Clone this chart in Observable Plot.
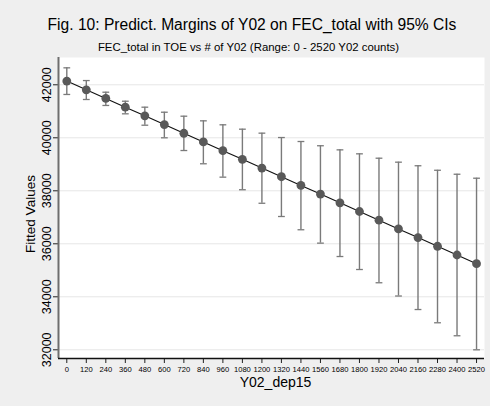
<!DOCTYPE html>
<html>
<head>
<meta charset="utf-8">
<script src="https://cdn.jsdelivr.net/npm/d3@7"></script>
<script src="https://cdn.jsdelivr.net/npm/@observablehq/plot@0.6"></script>
<style>
  html, body { margin: 0; padding: 0; background: #efefef; }
  #wrap { width: 490px; height: 406px; background: #efefef; font-family: "Liberation Sans", Arial, Helvetica, sans-serif; position: relative; overflow: hidden; }
  #title { position: absolute; left: 0; width: 504px; top: 16px; text-align: center; font-size: 15.6px; color: #000; white-space: nowrap; }
  #subtitle { position: absolute; left: 0; width: 497px; top: 41px; text-align: center; font-size: 11.4px; color: #000; white-space: nowrap; }
  #chart { position: absolute; left: 0; top: 57px; }
</style>
</head>
<body>
<div id="wrap">
  <div id="title">Fig. 10: Predict. Margins of Y02 on FEC_total with 95% CIs</div>
  <div id="subtitle">FEC_total in TOE vs # of Y02 (Range: 0 - 2520 Y02 counts)</div>
  <div id="chart"></div>
</div>
<script>
const counts = [0, 120, 240, 360, 480, 600, 720, 840, 960, 1080, 1200, 1320, 1440, 1560, 1680, 1800, 1920, 2040, 2160, 2280, 2400, 2520];
const fitted = [42140, 41812, 41484, 41156, 40828, 40500, 40171, 39843, 39515, 39187, 38859, 38531, 38203, 37875, 37547, 37219, 36891, 36563, 36235, 35907, 35578, 35250];
const upper  = [42640, 42160, 41720, 41380, 41155, 40965, 40815, 40640, 40490, 40325, 40175, 40010, 39860, 39700, 39545, 39395, 39230, 39080, 38945, 38775, 38625, 38475];
const lower  = [41635, 41445, 41220, 40905, 40475, 40000, 39520, 39020, 38515, 38040, 37530, 37030, 36530, 36025, 35520, 35030, 34530, 34030, 33520, 33020, 32530, 32000];
const yTicks = [32000, 34000, 36000, 38000, 40000, 42000];
const xTicks = counts;

const data = counts.map((c, i) => ({x: c, y: fitted[i], lo: lower[i], hi: upper[i]}));

const capSymbol = {
  draw(context, size) {
    const w = Math.sqrt(size / Math.PI);
    context.moveTo(-w, 0);
    context.lineTo(w, 0);
  }
};

const chart = Plot.plot({
  width: 490,
  height: 349,
  marginTop: 0,
  marginLeft: 58,
  marginRight: 6,
  marginBottom: 48,
  style: {background: "transparent", fontFamily: "Liberation Sans, Arial, Helvetica, sans-serif", color: "#000"},
  x: {domain: [-51, 2569]},
  y: {domain: [31672, 43030]},
  marks: [
    Plot.frame({fill: "white", stroke: null}),
    Plot.gridY(yTicks, {stroke: "#e6e6e6", strokeOpacity: 1, strokeWidth: 1}),
    Plot.ruleX(data, {x: "x", y1: "lo", y2: "hi", stroke: "#7a7a7a", strokeWidth: 1.4}),
    Plot.dot(data, {x: "x", y: "lo", symbol: capSymbol, r: 3.4, stroke: "#7a7a7a", strokeWidth: 1.3, fill: "none"}),
    Plot.dot(data, {x: "x", y: "hi", symbol: capSymbol, r: 3.4, stroke: "#7a7a7a", strokeWidth: 1.3, fill: "none"}),
    Plot.line(data, {x: "x", y: "y", stroke: "#111", strokeWidth: 1.1}),
    Plot.dot(data, {x: "x", y: "y", r: 4.4, fill: "#595959", stroke: "none"}),
    Plot.axisX({ticks: xTicks, tickSize: 5, tickPadding: 3, fontSize: 7.6, stroke: "#222", label: null, tickFormat: d => String(d)}),
    Plot.axisY({ticks: yTicks, tickSize: 5, tickFormat: () => "", label: null, stroke: "#222"}),
    Plot.text(yTicks, {y: d => d, text: d => String(d), frameAnchor: "left", dx: -12, rotate: -90, fontSize: 12.5, textAnchor: "middle", lineAnchor: "middle", fill: "#000"}),
    Plot.ruleX([-51], {stroke: "#6e6e6e", strokeWidth: 2}),
    Plot.ruleY([31672], {stroke: "#111", strokeWidth: 1.4}),
    Plot.text(["Fitted Values"], {frameAnchor: "left", dx: -28, dy: 6, rotate: -90, fontSize: 13.5, textAnchor: "middle", lineAnchor: "middle", fill: "#000"}),
    Plot.text(["Y02_dep15"], {frameAnchor: "bottom", dx: 4, dy: 24, fontSize: 14, textAnchor: "middle", lineAnchor: "middle", fill: "#000"})
  ]
});
document.getElementById("chart").appendChild(chart);
</script>
</body>
</html>
